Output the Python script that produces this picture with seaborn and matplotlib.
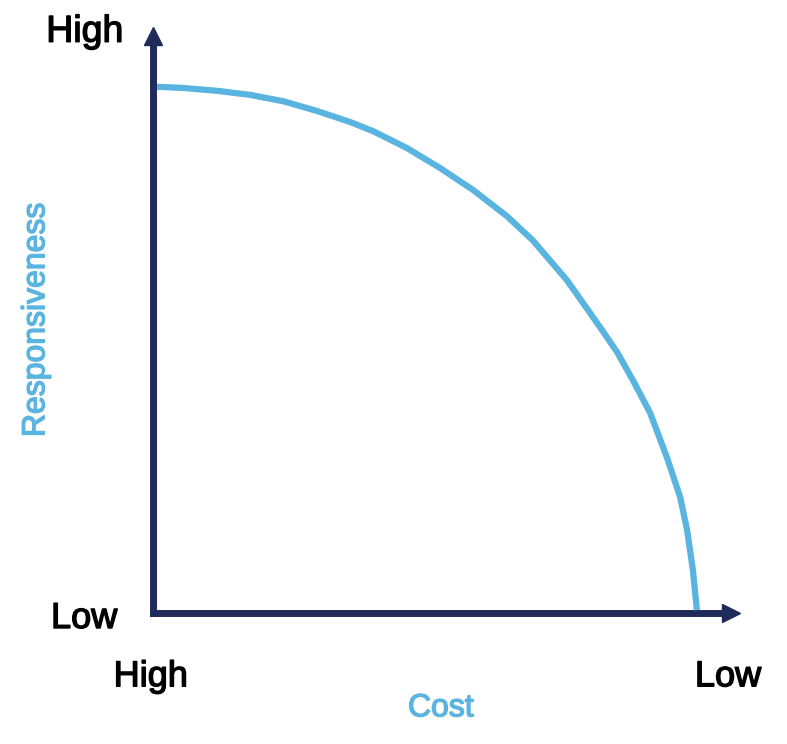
import numpy as np
import pandas as pd
import matplotlib
matplotlib.use("Agg")
import matplotlib.pyplot as plt
import matplotlib.patheffects as pe
import seaborn as sns

# trade-off curve (x: cost high->low, y: responsiveness low->high)
cost = [0.7, 5.2, 11.1, 16.8, 22.5, 28.4, 34.1, 38.1, 43.9, 49.7, 55.4, 61.2,
        65.7, 71.6, 77.3, 80.3, 83.0, 86.0, 88.9, 91.2, 92.4, 93.4, 94.1]
responsiveness = [91.2, 91.0, 90.5, 89.8, 88.7, 87.0, 85.1, 83.5, 80.6, 77.1, 73.3, 68.8,
                  64.6, 57.7, 49.6, 45.2, 40.4, 34.7, 27.0, 20.1, 14.4, 7.5, 0.5]

x_ticks = ["High", "Low"]
y_ticks = ["Low", "High"]

navy = "#1f2b5b"
blue = "#5ab4e0"

df = pd.DataFrame({"cost": cost, "responsiveness": responsiveness})

sns.set_style("white")
plt.rcParams["font.family"] = ["Liberation Sans", "DejaVu Sans"]

fig = plt.figure(figsize=(7.87, 7.44), dpi=100)
ax = fig.add_axes([153 / 787, 131 / 744, 578 / 787, 577 / 744])

sns.lineplot(data=df, x="cost", y="responsiveness", sort=False, color=blue,
             linewidth=4.5, ax=ax, solid_capstyle="butt", solid_joinstyle="round")

ax.set_xlim(0, 100)
ax.set_ylim(0, 100)
for s in ["top", "right"]:
    ax.spines[s].set_visible(False)
for s in ["left", "bottom"]:
    ax.spines[s].set_color(navy)
    ax.spines[s].set_linewidth(5)
    ax.spines[s].set_zorder(1)
ax.set_xticks([])
ax.set_yticks([])
ax.set_xlabel("")
ax.set_ylabel("")

# arrow heads
ax.plot(1, 0, ">", color=navy, markersize=13, transform=ax.get_yaxis_transform(), clip_on=False)
ax.plot(0, 1, "^", color=navy, markersize=13, transform=ax.get_xaxis_transform(), clip_on=False)

heavy = [pe.withStroke(linewidth=1.0, foreground="black")]
heavy_blue = [pe.withStroke(linewidth=1.0, foreground=blue)]

# end labels
ax.text(-11.8, 99.0, y_ticks[1], fontsize=27, color="black", ha="center", va="baseline",
        clip_on=False, path_effects=heavy)
ax.text(-11.9, -2.6, y_ticks[0], fontsize=26, color="black", ha="center", va="baseline",
        clip_on=False, path_effects=heavy)
ax.text(-0.4, -12.7, x_ticks[0], fontsize=26, color="black", ha="center", va="baseline",
        clip_on=False, path_effects=heavy)
ax.text(99.5, -12.7, x_ticks[1], fontsize=26, color="black", ha="center", va="baseline",
        clip_on=False, path_effects=heavy)

ax.text(49.8, -17.9, "Cost", fontsize=23, color=blue, ha="center", va="baseline",
        clip_on=False, path_effects=heavy_blue)
ax.text(-20.2, 50.8, "Responsiveness", fontsize=23, color=blue, rotation=90,
        ha="center", va="center", clip_on=False, path_effects=heavy_blue)

fig.savefig("out.png", dpi=100)
